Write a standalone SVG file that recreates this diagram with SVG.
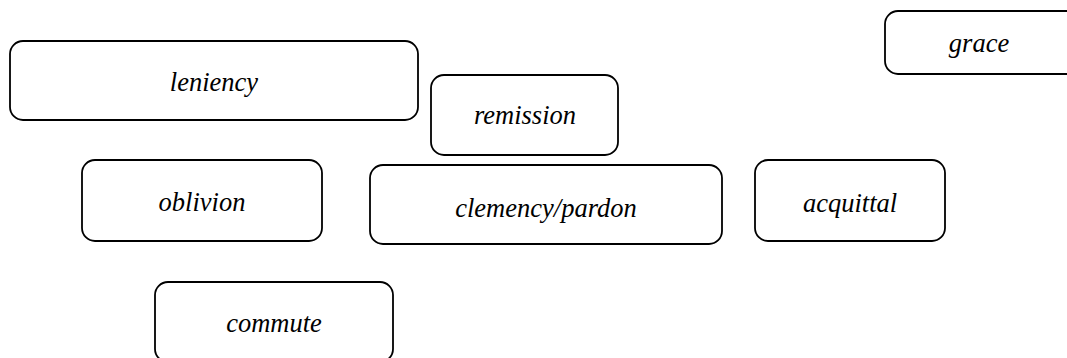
<svg xmlns="http://www.w3.org/2000/svg" width="1067" height="358" viewBox="0 0 1067 358">
  <style>
    .box { fill: #ffffff; stroke: #000000; stroke-width: 1.8; }
    .lbl { font-family: 'Liberation Serif', 'Times New Roman', serif; font-style: italic; font-size: 26.5px; fill: #000000; text-anchor: middle; }
  </style>
  <rect width="1067" height="358" fill="#ffffff"/>
  <!-- no links between the terms -->
  <g id="connectors"></g>
  <g id="leniency">
    <rect class="box" x="10" y="41" width="408" height="79" rx="13"/>
    <text class="lbl" x="214" y="91">leniency</text>
  </g>
  <g id="remission">
    <rect class="box" x="431" y="75" width="187" height="80" rx="13"/>
    <text class="lbl" x="525" y="124">remission</text>
  </g>
  <g id="grace">
    <rect class="box" x="885" y="11" width="200" height="63" rx="13"/>
    <text class="lbl" x="979" y="52">grace</text>
  </g>
  <g id="oblivion">
    <rect class="box" x="82" y="160" width="240" height="81" rx="13"/>
    <text class="lbl" x="202" y="211">oblivion</text>
  </g>
  <g id="clemency">
    <rect class="box" x="370" y="165" width="352" height="79" rx="13"/>
    <text class="lbl" x="546" y="217">clemency/pardon</text>
  </g>
  <g id="acquittal">
    <rect class="box" x="755" y="160" width="190" height="81" rx="13"/>
    <text class="lbl" x="850" y="212">acquittal</text>
  </g>
  <g id="commute">
    <rect class="box" x="155" y="282" width="238" height="80" rx="13"/>
    <text class="lbl" x="274" y="332">commute</text>
  </g>
</svg>
